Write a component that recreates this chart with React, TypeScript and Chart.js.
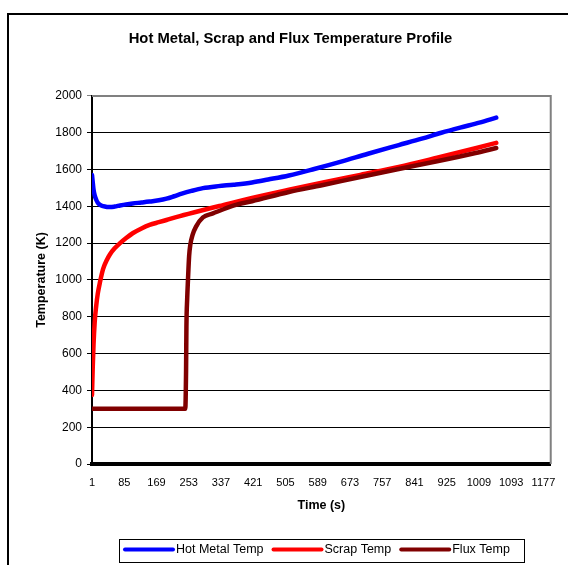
import React, { useEffect, useRef } from 'react';
import { Chart, registerables } from 'chart.js';

Chart.register(...registerables);

const chartTitle = 'Hot Metal, Scrap and Flux Temperature Profile';
const xAxisTitle = 'Time (s)';
const yAxisTitle = 'Temperature (K)';
const seriesLabels = ['Hot Metal Temp', 'Scrap Temp', 'Flux Temp'];
const seriesColors = ['#0000FF', '#FF0000', '#800000'];

const xTickLabels = [1, 85, 169, 253, 337, 421, 505, 589, 673, 757, 841, 925, 1009, 1093, 1177];
const xMin = 1;
const xMax = 1196;
const yMin = 0;
const yMax = 2000;
const yStep = 200;

const hotMetalTimes = [1, 3, 5, 8, 12, 16, 22, 30, 40, 48, 60, 74, 90, 107, 130, 151, 175, 195, 215, 235, 260, 290, 330, 370, 418, 460, 514, 580, 650, 720, 800, 860, 911, 960, 1010, 1054];
const hotMetalTemp = [1571, 1530, 1492, 1460, 1436, 1420, 1408, 1401, 1397, 1396, 1399, 1405, 1411, 1416, 1421, 1426, 1433, 1442, 1455, 1469, 1484, 1499, 1510, 1518, 1530, 1546, 1568, 1603, 1643, 1686, 1733, 1768, 1800, 1828, 1855, 1882];

const scrapTimes = [1, 3, 5, 8, 12, 16, 22, 30, 40, 48, 60, 74, 90, 107, 130, 151, 175, 195, 230, 281, 333, 418, 514, 600, 700, 800, 900, 1000, 1054];
const scrapTemp = [375, 530, 650, 770, 860, 925, 990, 1060, 1110, 1140, 1172, 1200, 1228, 1254, 1280, 1299, 1314, 1326, 1347, 1375, 1402, 1446, 1490, 1528, 1571, 1614, 1664, 1716, 1745];

const fluxTimes = [1, 244, 246, 247, 249, 251, 254, 257, 263, 272, 290, 316, 376, 418, 514, 600, 700, 800, 900, 1000, 1054];
const fluxTemp = [300, 300, 500, 750, 900, 1000, 1130, 1190, 1245, 1290, 1340, 1362, 1408, 1428, 1478, 1515, 1560, 1603, 1645, 1690, 1717];

const FONT = "'Liberation Sans', Arial, sans-serif";

const toPoints = (xs: number[], ys: number[]) => xs.map((x, i) => ({ x, y: ys[i] }));

const framePlugin = {
  id: 'excelFrame',
  beforeDatasetsDraw(chart: any) {
    const { ctx, chartArea: a } = chart;
    ctx.save();
    ctx.strokeStyle = '#808080';
    ctx.lineWidth = 2;
    ctx.beginPath();
    ctx.moveTo(a.left, a.top);
    ctx.lineTo(a.right, a.top);
    ctx.lineTo(a.right, a.bottom);
    ctx.stroke();
    ctx.restore();
  },
  afterDraw(chart: any) {
    const { ctx } = chart;
    ctx.save();
    ctx.strokeStyle = '#000';
    ctx.lineWidth = 2;
    ctx.beginPath();
    ctx.moveTo(8, 700);
    ctx.lineTo(8, 14);
    ctx.lineTo(700, 14);
    ctx.stroke();

    ctx.lineWidth = 1;
    ctx.strokeStyle = '#000';
    ctx.strokeRect(119.5, 539.5, 405, 23);
    ctx.font = `12.5px ${FONT}`;
    ctx.textBaseline = 'middle';
    ctx.textAlign = 'left';
    let x = 123;
    const y = 549.5;
    chart.data.datasets.forEach((ds: any) => {
      ctx.strokeStyle = ds.borderColor;
      ctx.lineWidth = 4;
      ctx.lineCap = 'round';
      ctx.beginPath();
      ctx.moveTo(x + 2, y);
      ctx.lineTo(x + 50, y);
      ctx.stroke();
      ctx.fillStyle = '#000';
      ctx.fillText(ds.label, x + 53, y + 0.5);
      x += 53 + ctx.measureText(ds.label).width + 8;
    });
    ctx.restore();
  },
};

export default function App() {
  const canvasRef = useRef<HTMLCanvasElement | null>(null);

  useEffect(() => {
    if (!canvasRef.current) return;
    const seriesTimes = [hotMetalTimes, scrapTimes, fluxTimes];
    const seriesValues = [hotMetalTemp, scrapTemp, fluxTemp];
    const chart = new Chart(canvasRef.current, {
      type: 'line',
      data: {
        datasets: seriesLabels.map((label, i) => ({
          label,
          data: toPoints(seriesTimes[i], seriesValues[i]),
          borderColor: seriesColors[i],
          backgroundColor: seriesColors[i],
          borderWidth: 4.5,
          pointRadius: 0,
          pointHoverRadius: 0,
          cubicInterpolationMode: 'monotone' as const,
          borderCapStyle: 'round' as const,
          borderJoinStyle: 'round' as const,
          fill: false,
          order: 3 - i,
        })),
      },
      options: {
        responsive: false,
        animation: false,
        devicePixelRatio: 1,
        layout: { padding: { left: 28, right: 15, top: 0, bottom: 0 } },
        plugins: {
          legend: { display: false },
          tooltip: { enabled: false },
          title: {
            display: true,
            text: chartTitle,
            color: '#000',
            font: { family: FONT, size: 14.8, weight: 'bold' },
            padding: { top: 30.5, bottom: 47.7 },
          },
        },
        scales: {
          x: {
            type: 'linear',
            min: xMin,
            max: xMax,
            afterBuildTicks: (scale: any) => {
              scale.ticks = xTickLabels.map((v) => ({ value: v }));
            },
            afterFit: (scale: any) => {
              scale.height = 101;
            },
            ticks: {
              autoSkip: false,
              maxRotation: 0,
              padding: 12.5,
              color: '#000',
              font: { family: FONT, size: 11 },
              callback: (v: any) => String(v),
            },
            grid: { display: false, drawTicks: false, tickLength: 0 },
            border: { display: true, color: '#000', width: 4 },
            title: {
              display: true,
              text: xAxisTitle,
              color: '#000',
              font: { family: FONT, size: 12.5, weight: 'bold' },
              padding: { top: 0, bottom: 52 },
            },
          },
          y: {
            min: yMin,
            max: yMax,
            afterFit: (scale: any) => {
              scale.width = 64;
            },
            ticks: {
              stepSize: yStep,
              padding: 5,
              color: '#000',
              font: { family: FONT, size: 12 },
              callback: (v: any) => String(v),
            },
            grid: {
              color: (c: any) => (c.tick && c.tick.value === yMax ? '#808080' : '#000'),
              lineWidth: 1,
              tickLength: 5,
            },
            border: { display: true, color: '#000', width: 2 },
            title: {
              display: true,
              text: yAxisTitle,
              color: '#000',
              font: { family: FONT, size: 12.5, weight: 'bold' },
              padding: { top: 6, bottom: 0 },
            },
          },
        },
      },
      plugins: [framePlugin],
    });
    return () => chart.destroy();
  }, []);

  return (
    <div style={{ position: 'fixed', left: 0, top: 0, width: 568, height: 565, background: '#fff' }}>
      <canvas ref={canvasRef} width={568} height={565} style={{ width: 568, height: 565, display: 'block' }} />
    </div>
  );
}
